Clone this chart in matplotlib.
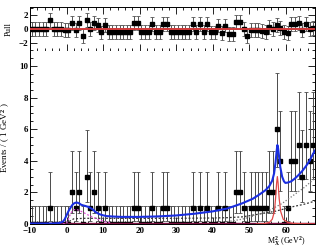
import matplotlib
matplotlib.use('Agg')
import matplotlib.pyplot as plt
import numpy as np
from matplotlib.ticker import MultipleLocator

plt.rcParams['font.family'] = ['Liberation Serif', 'DejaVu Serif']
plt.rcParams['font.weight'] = 'bold'
plt.rcParams['mathtext.fontset'] = 'custom'
plt.rcParams['mathtext.rm'] = 'Liberation Serif:bold'
plt.rcParams['mathtext.it'] = 'Liberation Serif:bold'
plt.rcParams['mathtext.bf'] = 'Liberation Serif:bold'

# bin centres, 1 GeV^2 bins from -10 to 68
binCenters = np.arange(-9.5, 68, 1.0)

# non-empty bins (all other bins are 0)
filledBins = {
    -4.5: 1, 1.5: 2, 2.5: 1, 3.5: 2, 5.5: 3, 6.5: 1, 7.5: 2, 8.5: 1, 10.5: 1,
    18.5: 1, 19.5: 1, 23.5: 1, 26.5: 1, 27.5: 1, 34.5: 1, 36.5: 1, 38.5: 1,
    41.5: 1, 43.5: 1, 46.5: 2, 47.5: 2, 48.5: 1, 50.5: 1, 51.5: 1, 52.5: 1,
    53.5: 1, 54.5: 1, 55.5: 2, 56.5: 2, 57.5: 6, 58.5: 4, 60.5: 1, 61.5: 4,
    62.5: 4, 63.5: 5, 64.5: 3, 65.5: 5, 66.5: 4, 67.5: 5,
}
counts = np.array([filledBins.get(c, 0) for c in binCenters])

# poisson error bar ends as drawn (lower, upper) per count
errLow = {0: 0.0, 1: 0.83, 2: 1.29, 3: 1.63, 4: 1.91, 5: 2.16, 6: 2.38}
errHigh = {0: 1.15, 1: 2.30, 2: 2.64, 3: 2.92, 4: 3.16, 5: 3.38, 6: 3.58}

pulls = [
    0.0, 0.0, 0.0, 0.0, 0.0, 1.3, 0.0, 0.0, -0.05, -0.1,
    -0.2, 0.9, -0.1, 0.8, -1.0, 1.3, 0.0, 0.9, 0.6, -0.5,
    0.6, -0.4, -0.4, -0.4, -0.4, -0.4, -0.4, -0.4, 0.85, 0.85,
    -0.4, -0.4, -0.4, 0.75, -0.4, -0.4, 0.75, 0.75, -0.4, -0.4,
    -0.4, -0.4, -0.45, -0.45, 0.75, -0.45, 0.7, -0.45, 0.7, -0.5,
    -0.5, 0.5, -0.6, 0.5, -0.65, -0.65, 0.95, 0.95, 0.0, -1.0,
    -0.1, -0.1, -0.2, -0.3, -0.4, 0.3, 0.0, 0.6, 0.1, -0.4,
    -0.6, 0.7, 0.7, 0.8, -0.1, 0.7, 0.0, 0.2,
]

# total fit (blue)
totX = [-10, -4, -3, -2, -1, -0.5, 0, 0.5, 1, 1.5, 2, 2.5, 3, 3.5, 4, 4.5, 5, 6, 7,
        7.5, 8, 9, 10, 11, 13, 15, 20, 25, 30, 35, 40, 44, 48, 51, 53, 54.5, 55.5,
        56.3, 56.8, 57.2, 57.5, 57.7, 57.9, 58.2, 58.5, 59.0, 59.5, 59.9, 60.5,
        61.5, 62.5, 63.5, 64.5, 65.5, 66.5, 67.5, 68]
totY = [0.03, 0.03, 0.04, 0.06, 0.15, 0.3, 0.55, 0.8, 1.0, 1.18, 1.3, 1.35, 1.35, 1.3,
        1.22, 1.18, 1.15, 1.08, 0.95, 0.85, 0.75, 0.62, 0.55, 0.5, 0.47, 0.45, 0.45,
        0.48, 0.54, 0.65, 0.8, 0.98, 1.3, 1.6, 1.9, 2.15, 2.4, 2.75, 3.2, 3.9, 4.6,
        5.0, 4.8, 4.2, 3.6, 3.0, 2.7, 2.6, 2.62, 2.7, 2.88, 3.1, 3.35, 3.65, 4.0,
        4.45, 4.65]

# signal peak (red)
sigX = [52, 54, 55.5, 56.3, 56.9, 57.2, 57.5, 57.7, 57.9, 58.2, 58.6, 59.3, 60.5, 62, 64, 68]
sigY = [0.0, 0.02, 0.1, 0.3, 0.8, 1.6, 2.6, 3.0, 2.6, 1.6, 0.8, 0.3, 0.1, 0.04, 0.02, 0.0]

# low mass peak (magenta dotted)
lowX = [-1, 0, 0.5, 1, 1.5, 2, 2.5, 3, 4, 5, 6, 7, 8, 9, 10, 11, 12]
lowY = [0.0, 0.05, 0.3, 0.6, 0.8, 0.9, 0.92, 0.9, 0.8, 0.68, 0.56, 0.45, 0.35, 0.26, 0.18, 0.12, 0.08]

# flat background (black dotted)
bkgX = [0, 1, 2, 5, 10, 20, 30, 40, 44, 48, 52, 57, 62, 65, 68]
bkgY = [0.0, 0.2, 0.33, 0.36, 0.36, 0.36, 0.36, 0.38, 0.4, 0.45, 0.6, 0.8, 1.1, 1.25, 1.45]

# rising background (grey dotted)
riseX = [44, 48, 51, 55, 59, 62, 65, 68]
riseY = [0.15, 0.3, 0.5, 0.8, 1.3, 1.8, 2.3, 2.9]

# tiny component along the floor (dark red)
floorX = [-10, 68]
floorY = [0.05, 0.05]

fig = plt.figure(figsize=(3.27, 2.48), dpi=100)
axPull = fig.add_axes([30/327, 1-51/248, 285/327, 44/248])
axMain = fig.add_axes([30/327, 1-224/248, 285/327, 173/248])

########################
# PULL panel
########################
axPull.errorbar(binCenters, pulls, yerr=1.0, xerr=0.5, fmt='s', ms=2.4,
                color='black', ecolor='#555555', elinewidth=0.7, capsize=1.2,
                capthick=0.6)
axPull.axhline(0, color='#d03a3a', lw=1.4, zorder=3)
axPull.set_xlim(-10, 68)
axPull.set_ylim(-3.15, 3.15)
axPull.yaxis.set_major_locator(MultipleLocator(2))
axPull.yaxis.set_minor_locator(MultipleLocator(1))
axPull.xaxis.set_major_locator(MultipleLocator(10))
axPull.xaxis.set_minor_locator(MultipleLocator(2))
axPull.set_xticklabels([])
axPull.set_ylabel('Pull', fontsize=6, labelpad=4)

########################
# MAIN panel
########################
lo = np.array([errLow[c] for c in counts])
hi = np.array([errHigh[c] for c in counts])
axMain.errorbar(binCenters, counts, yerr=[lo, hi], xerr=0.5, fmt='s', ms=2.4,
                color='black', ecolor='#4a4a4a', elinewidth=0.7, capsize=1.2,
                capthick=0.6, zorder=2)
axMain.plot(floorX, floorY, color='#7a1040', lw=1.0, zorder=3)
axMain.plot(bkgX, bkgY, color='#333333', lw=0.9, ls=(0, (1.5, 1.5)), zorder=3)
axMain.plot(riseX, riseY, color='#777777', lw=0.9, ls=(0, (1, 1.5)), zorder=3)
axMain.plot(lowX, lowY, color='#e050d8', lw=0.9, ls=(0, (1.5, 1.5)), zorder=3)
axMain.plot(sigX, sigY, color='#e04848', lw=0.9, zorder=3)
axMain.plot(totX, totY, color='#1a2ee0', lw=1.5, zorder=4)

axMain.set_xlim(-10, 68)
axMain.set_ylim(0, 10.95)
axMain.xaxis.set_major_locator(MultipleLocator(10))
axMain.xaxis.set_minor_locator(MultipleLocator(2))
axMain.yaxis.set_major_locator(MultipleLocator(2))
axMain.yaxis.set_minor_locator(MultipleLocator(0.5))
axMain.spines['top'].set_visible(False)
axMain.set_ylabel('Events / ( 1 GeV$^2$ )', fontsize=6.5, labelpad=5)
axMain.set_xlabel(r'M$_{\rm X}^2$ (GeV$^2$)', fontsize=5.8, labelpad=0)
axMain.xaxis.set_label_coords(0.9, -0.062)

for ax in (axPull, axMain):
    ax.tick_params(which='both', direction='in', right=True, top=True,
                   labelsize=6.5, pad=1.5, width=0.6)
    ax.tick_params(which='major', length=5)
    ax.tick_params(which='minor', length=2.5)
    for s in ax.spines.values():
        s.set_linewidth(0.7)
axMain.tick_params(which='both', top=False)
axMain.tick_params(axis='x', pad=2.5)

fig.savefig('out.png', dpi=100)
